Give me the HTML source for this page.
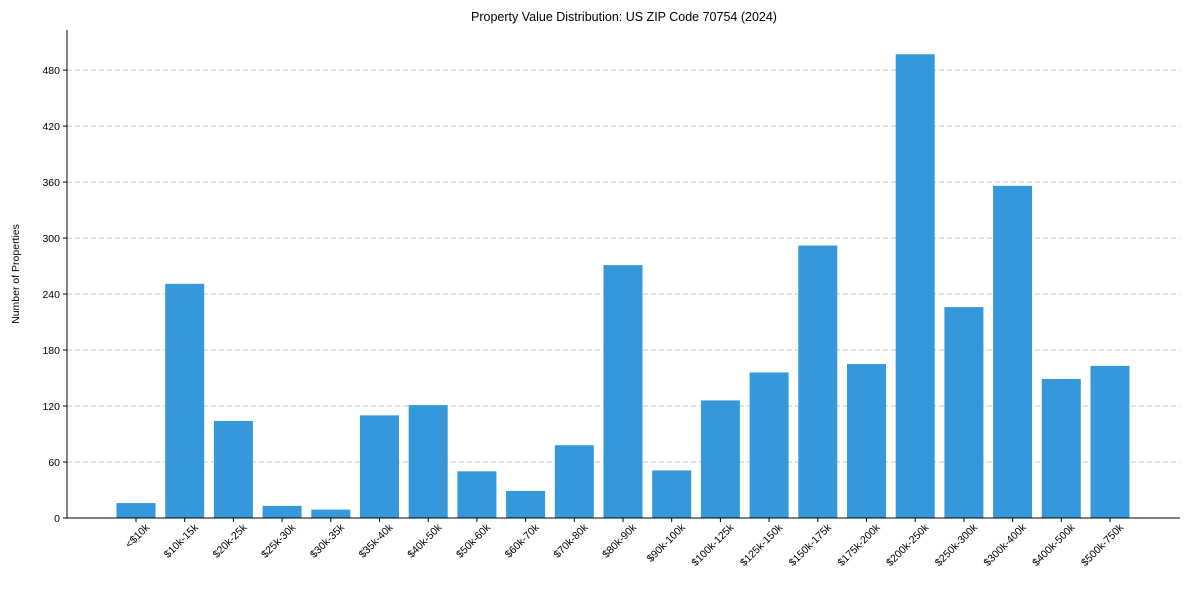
<!DOCTYPE html>
<html><head><meta charset="utf-8"><style>
html,body{margin:0;padding:0;background:#fff;}
svg text{font-family:"Liberation Sans",Arial,sans-serif;fill:#000;}
</style></head><body>
<svg id="chart" width="1189" height="590">
<text x="624" y="21" text-anchor="middle" font-size="12.5">Property Value Distribution: US ZIP Code 70754 (2024)</text>
<text transform="translate(19,274) rotate(-90)" text-anchor="middle" font-size="10.5">Number of Properties</text>
<g id="grid"></g><g id="bars"></g><g id="axes"></g>
</svg>
<script>
const categories=["<$10k","$10k-15k","$20k-25k","$25k-30k","$30k-35k","$35k-40k","$40k-50k","$50k-60k","$60k-70k","$70k-80k","$80k-90k","$90k-100k","$100k-125k","$125k-150k","$150k-175k","$175k-200k","$200k-250k","$250k-300k","$300k-400k","$400k-500k","$500k-750k"];
const values=[16,251,104,13,9,110,121,50,29,78,271,51,126,156,292,165,497,226,356,149,163];
const yTicks=[0,60,120,180,240,300,360,420,480];
const NS="http://www.w3.org/2000/svg";
const plotLeft=67,plotRight=1180,plotTop=30,plotBottom=518,yMax=523;
const yScale=v=>plotBottom-(v/yMax)*(plotBottom-plotTop);
const step=(1110-136)/(categories.length-1);
const xScale=i=>136+i*step;
const bw=39;
function mk(tag,attrs,parent){const e=document.createElementNS(NS,tag);for(const k in attrs)e.setAttribute(k,attrs[k]);parent.appendChild(e);return e;}
const grid=document.getElementById('grid'),bars=document.getElementById('bars'),axes=document.getElementById('axes');
yTicks.forEach(t=>{
  if(t>0){const g=mk('line',{x1:plotLeft,x2:plotRight,y1:yScale(t),y2:yScale(t),stroke:'#c8c8c8','stroke-dasharray':'5,3','stroke-width':1},grid);
  
  }
  const tk=mk('line',{x1:plotLeft-4,x2:plotLeft,y1:yScale(t),y2:yScale(t),stroke:'#000'},axes);
  
  
  const tl=mk('text',{x:plotLeft-7,y:yScale(t)+4,'text-anchor':'end','font-size':10.5},axes);
  tl.textContent=t;
  
  
});
values.forEach((v,i)=>{
  const r=mk('rect',{x:xScale(i)-bw/2,y:yScale(v),width:bw,height:plotBottom-yScale(v),fill:'#3498db'},bars);
  
  
  const tk=mk('line',{x1:xScale(i),x2:xScale(i),y1:plotBottom,y2:plotBottom+4,stroke:'#000'},axes);
  
  
  const t=mk('text',{transform:`translate(${xScale(i)+14},${plotBottom+10}) rotate(-45)`,'text-anchor':'end','font-size':10.5},axes);
  t.textContent=categories[i];
  
  
});
const ya=mk('line',{x1:plotLeft,x2:plotLeft,y1:plotTop,y2:plotBottom,stroke:'#000'},axes);


const xa=mk('line',{x1:plotLeft,x2:plotRight,y1:plotBottom,y2:plotBottom,stroke:'#000'},axes);


</script>
</body></html>
